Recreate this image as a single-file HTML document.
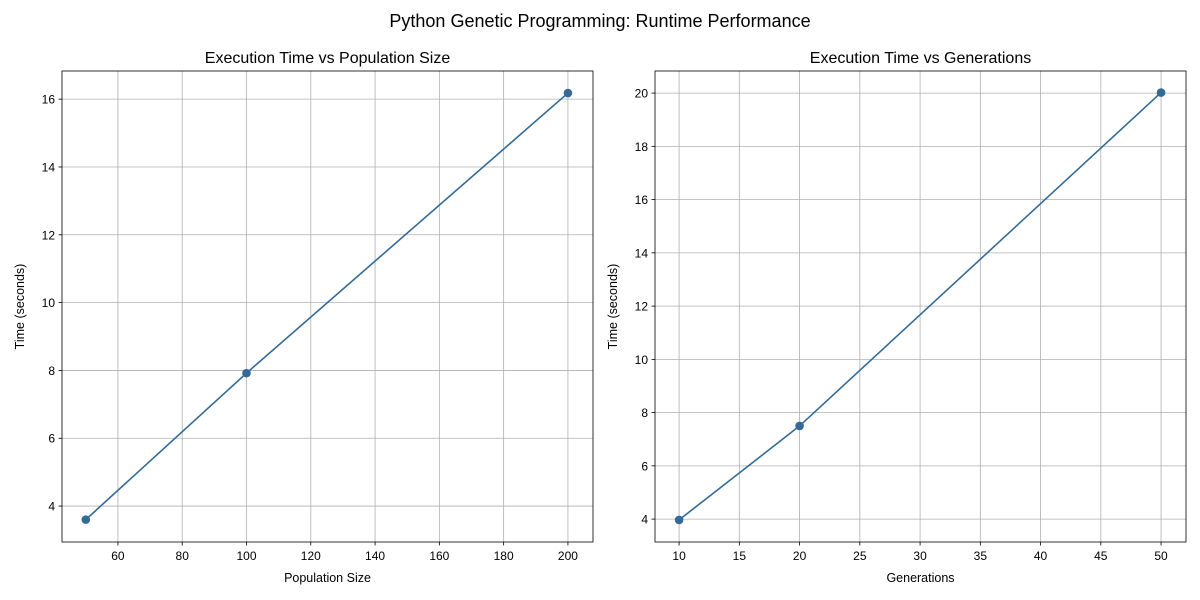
<!DOCTYPE html>
<html><head><meta charset="utf-8"><style>
body{margin:0;background:#fff;}
svg{display:block;font-family:"Liberation Sans","DejaVu Sans",sans-serif;}
</style></head><body>
<svg id="chart" width="1200" height="600">
<text x="600" y="27" font-size="18" text-anchor="middle">Python Genetic Programming: Runtime Performance</text>
</svg>
<script>
const popSizes=[50,100,200];
const popTimes=[3.6,7.92,16.18];
const gens=[10,20,50];
const genTimes=[3.97,7.5,20.02];
const leftXTicks=[60,80,100,120,140,160,180,200];
const leftYTicks=[4,6,8,10,12,14,16];
const rightXTicks=[10,15,20,25,30,35,40,45,50];
const rightYTicks=[4,6,8,10,12,14,16,18,20];
const svg=document.getElementById('chart');
const NS='http://www.w3.org/2000/svg';
function mk(t,a,p){const e=document.createElementNS(NS,t);for(const k in a)e.setAttribute(k,a[k]);(p||svg).appendChild(e);return e;}
function panel(o){
  const g=mk('g',{});
  
  
  const sx=v=>o.x0+(v-o.xmin)/(o.xmax-o.xmin)*(o.x1-o.x0);
  const sy=v=>o.y1-(v-o.ymin)/(o.ymax-o.ymin)*(o.y1-o.y0);
  o.xt.forEach(v=>{const X=sx(v);
    const l=mk('line',{x1:X,x2:X,y1:o.y0,y2:o.y1,stroke:'#b0b0b0','stroke-width':0.8},g);
    
    mk('line',{x1:X,x2:X,y1:o.y1,y2:o.y1+3.5,stroke:'#000','stroke-width':0.8},g);
    const t=mk('text',{x:X,y:o.y1+18,'font-size':12,'text-anchor':'middle'},g);t.textContent=v;
    });
  o.yt.forEach(v=>{const Y=sy(v);
    const l=mk('line',{x1:o.x0,x2:o.x1,y1:Y,y2:Y,stroke:'#b0b0b0','stroke-width':0.8},g);
    
    mk('line',{x1:o.x0-3.5,x2:o.x0,y1:Y,y2:Y,stroke:'#000','stroke-width':0.8},g);
    const t=mk('text',{x:o.x0-7,y:Y+4.5,'font-size':12,'text-anchor':'end'},g);t.textContent=v;
    });
  const pl=mk('polyline',{points:o.xs.map((v,i)=>sx(v)+','+sy(o.ys[i])).join(' '),fill:'none',stroke:'#336a98','stroke-width':1.6},g);
  
  o.xs.forEach((v,i)=>{const c=mk('circle',{cx:sx(v),cy:sy(o.ys[i]),r:4.3,fill:'#336a98'},g);
    });
  const fr=mk('rect',{x:o.x0,y:o.y0,width:o.x1-o.x0,height:o.y1-o.y0,fill:'none',stroke:'#000','stroke-width':0.8},g);
  
  const ti=mk('text',{x:(o.x0+o.x1)/2,y:o.y0-8,'font-size':16,'text-anchor':'middle'},g);ti.textContent=o.title;
  
  const xl=mk('text',{x:(o.x0+o.x1)/2,y:582,'font-size':12.5,'text-anchor':'middle'},g);xl.textContent=o.xlabel;
  
  const yx=o.x0-38,yy=(o.y0+o.y1)/2;
  const yl=mk('text',{x:yx,y:yy,'font-size':12.5,'text-anchor':'middle',transform:`rotate(-90 ${yx} ${yy})`},g);yl.textContent='Time (seconds)';
  
}
panel({name:'population-panel',x0:62,x1:593,y0:71,y1:542,xmin:42.6,xmax:207.8,ymin:2.94,ymax:16.83,xt:leftXTicks,yt:leftYTicks,xs:popSizes,ys:popTimes,title:'Execution Time vs Population Size',xlabel:'Population Size'});
panel({name:'generations-panel',x0:655,x1:1186,y0:71,y1:542,xmin:8.0,xmax:52.07,ymin:3.14,ymax:20.83,xt:rightXTicks,yt:rightYTicks,xs:gens,ys:genTimes,title:'Execution Time vs Generations',xlabel:'Generations'});
</script>
</body></html>
